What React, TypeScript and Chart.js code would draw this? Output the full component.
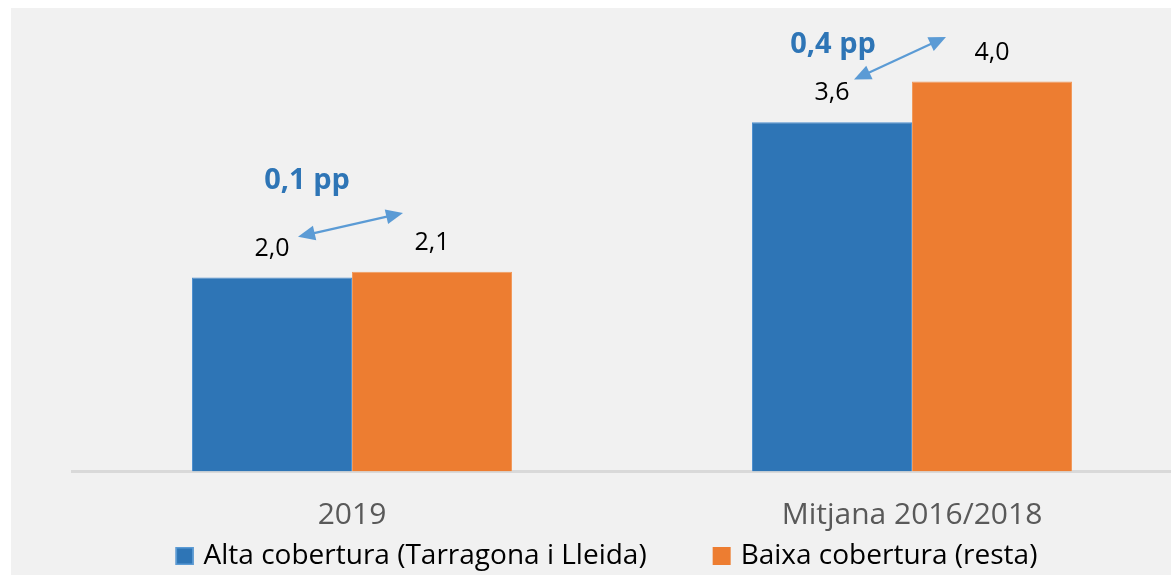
import React, { useEffect, useRef } from "react";
import { Chart, registerables } from "chart.js";

Chart.register(...registerables);

// ---- data ----
const categories = ["2019", "Mitjana 2016/2018"];
const seriesNames = ["Alta cobertura (Tarragona i Lleida)", "Baixa cobertura (resta)"];
const altaValues = [2.0, 3.6];
const baixaValues = [2.06, 4.02];
const gapLabels = ["0,1 pp", "0,4 pp"];

// ---- styling / annotation layout ----
const BLUE = "#2e75b6";
const ORANGE = "#ed7d31";
const ARROW = "#5b9bd5";
const FONT = "'Open Sans', sans-serif";
// annotation text: x offset from category centre (px), y in value units
const gapTextPos = [
  { dx: -45, v: 3.0 },
  { dx: -79, v: 4.4 },
];
// arrow endpoints: x offsets from category centre (px), y in value units
const gapArrowPos = [
  { dx1: -54, v1: 2.42, dx2: 51, v2: 2.665 },
  { dx1: -58, v1: 4.04, dx2: 34, v2: 4.48 },
];

function fmt(v: number) {
  return v.toFixed(1).replace(".", ",");
}

function arrowHead(ctx: CanvasRenderingContext2D, x: number, y: number, ang: number) {
  const len = 17;
  const hw = 7.5;
  ctx.beginPath();
  ctx.moveTo(x, y);
  ctx.lineTo(x - len * Math.cos(ang) + hw * Math.sin(ang), y - len * Math.sin(ang) - hw * Math.cos(ang));
  ctx.lineTo(x - len * Math.cos(ang) - hw * Math.sin(ang), y - len * Math.sin(ang) + hw * Math.cos(ang));
  ctx.closePath();
  ctx.fill();
}

const overlayPlugin = {
  id: "overlay",
  afterDatasetsDraw(chart: any) {
    const ctx: CanvasRenderingContext2D = chart.ctx;
    const xs = chart.scales.x;
    const ys = chart.scales.y;
    ctx.save();
    // data labels
    ctx.fillStyle = "#000";
    ctx.font = `25px ${FONT}`;
    ctx.textAlign = "center";
    ctx.textBaseline = "middle";
    chart.data.datasets.forEach((ds: any, di: number) => {
      const meta = chart.getDatasetMeta(di);
      meta.data.forEach((bar: any, i: number) => {
        ctx.fillText(fmt(ds.data[i]), bar.x, bar.y - 29);
      });
    });
    // gap annotations
    ctx.fillStyle = BLUE;
    ctx.font = `bold 29px ${FONT}`;
    gapLabels.forEach((t, i) => {
      const cx = xs.getPixelForValue(i);
      ctx.fillText(t, cx + gapTextPos[i].dx, ys.getPixelForValue(gapTextPos[i].v));
    });
    // arrows
    ctx.strokeStyle = ARROW;
    ctx.fillStyle = ARROW;
    ctx.lineWidth = 2.2;
    gapArrowPos.forEach((a, i) => {
      const cx = xs.getPixelForValue(i);
      const x1 = cx + a.dx1;
      const y1 = ys.getPixelForValue(a.v1);
      const x2 = cx + a.dx2;
      const y2 = ys.getPixelForValue(a.v2);
      const ang = Math.atan2(y2 - y1, x2 - x1);
      const inset = 12;
      ctx.beginPath();
      ctx.moveTo(x1 + inset * Math.cos(ang), y1 + inset * Math.sin(ang));
      ctx.lineTo(x2 - inset * Math.cos(ang), y2 - inset * Math.sin(ang));
      ctx.stroke();
      arrowHead(ctx, x2, y2, ang);
      arrowHead(ctx, x1, y1, ang + Math.PI);
    });
    ctx.restore();
  },
  afterDraw(chart: any) {
    // legend
    const ctx: CanvasRenderingContext2D = chart.ctx;
    ctx.save();
    ctx.font = `28px ${FONT}`;
    ctx.textBaseline = "middle";
    ctx.textAlign = "left";
    const box = 18;
    const gapBoxText = 10;
    const gapItems = 66;
    const widths = chart.data.datasets.map((d: any) => ctx.measureText(d.label).width);
    const total =
      widths.reduce((s: number, w: number) => s + w, 0) +
      chart.data.datasets.length * (box + gapBoxText) +
      gapItems * (chart.data.datasets.length - 1);
    let x = chart.width / 2 + 5 - total / 2;
    const cy = chart.height - 19;
    chart.data.datasets.forEach((d: any, i: number) => {
      ctx.fillStyle = d.backgroundColor;
      ctx.fillRect(x, cy - box / 2, box, box);
      if (i === 0) {
        ctx.strokeStyle = ARROW;
        ctx.lineWidth = 1.5;
        ctx.strokeRect(x + 0.75, cy - box / 2 + 0.75, box - 1.5, box - 1.5);
      }
      x += box + gapBoxText;
      ctx.fillStyle = "#000";
      ctx.fillText(d.label, x, cy);
      x += widths[i] + gapItems;
    });
    ctx.restore();
  },
};

export default function App() {
  const ref = useRef<HTMLCanvasElement>(null);
  useEffect(() => {
    if (!ref.current) return;
    const chart = new Chart(ref.current, {
      type: "bar",
      data: {
        labels: categories,
        datasets: [
          {
            label: seriesNames[0],
            data: altaValues,
            backgroundColor: BLUE,
            borderColor: "#4f90cf",
            borderWidth: 1,
            categoryPercentage: 320 / 560,
            barPercentage: 1,
          },
          {
            label: seriesNames[1],
            data: baixaValues,
            backgroundColor: ORANGE,
            borderColor: "#f19a5c",
            borderWidth: 1,
            categoryPercentage: 320 / 560,
            barPercentage: 1,
          },
        ],
      },
      options: {
        responsive: false,
        animation: false,
        devicePixelRatio: 1,
        layout: { padding: { left: 12, right: 0, top: 7.6, bottom: 43.5 } },
        plugins: { legend: { display: false }, tooltip: { enabled: false } },
        scales: {
          x: {
            grid: { display: false },
            border: { display: true, color: "#d9d9d9", width: 3 },
            ticks: { color: "#595959", font: { family: FONT, size: 30 }, padding: 18 },
            afterFit: (s: any) => {
              s.height = 60;
            },
          },
          y: {
            min: 0,
            max: 4.7,
            grid: { display: false },
            border: { display: false },
            ticks: { display: false },
            afterFit: (s: any) => {
              s.width = 49;
            },
          },
        },
      },
      plugins: [overlayPlugin],
    });
    return () => chart.destroy();
  }, []);

  return (
    <div
      style={{
        position: "fixed",
        left: 0,
        top: 0,
        width: 1171,
        height: 575,
        background: "#ffffff",
        overflow: "hidden",
      }}
    >
      <div
        style={{
          position: "absolute",
          left: 11,
          top: 8,
          width: 1160,
          height: 567,
          background: "#f1f1f1",
          overflow: "hidden",
        }}
      >
        <canvas ref={ref} width={1181} height={567} style={{ display: "block" }} />
      </div>
    </div>
  );
}
